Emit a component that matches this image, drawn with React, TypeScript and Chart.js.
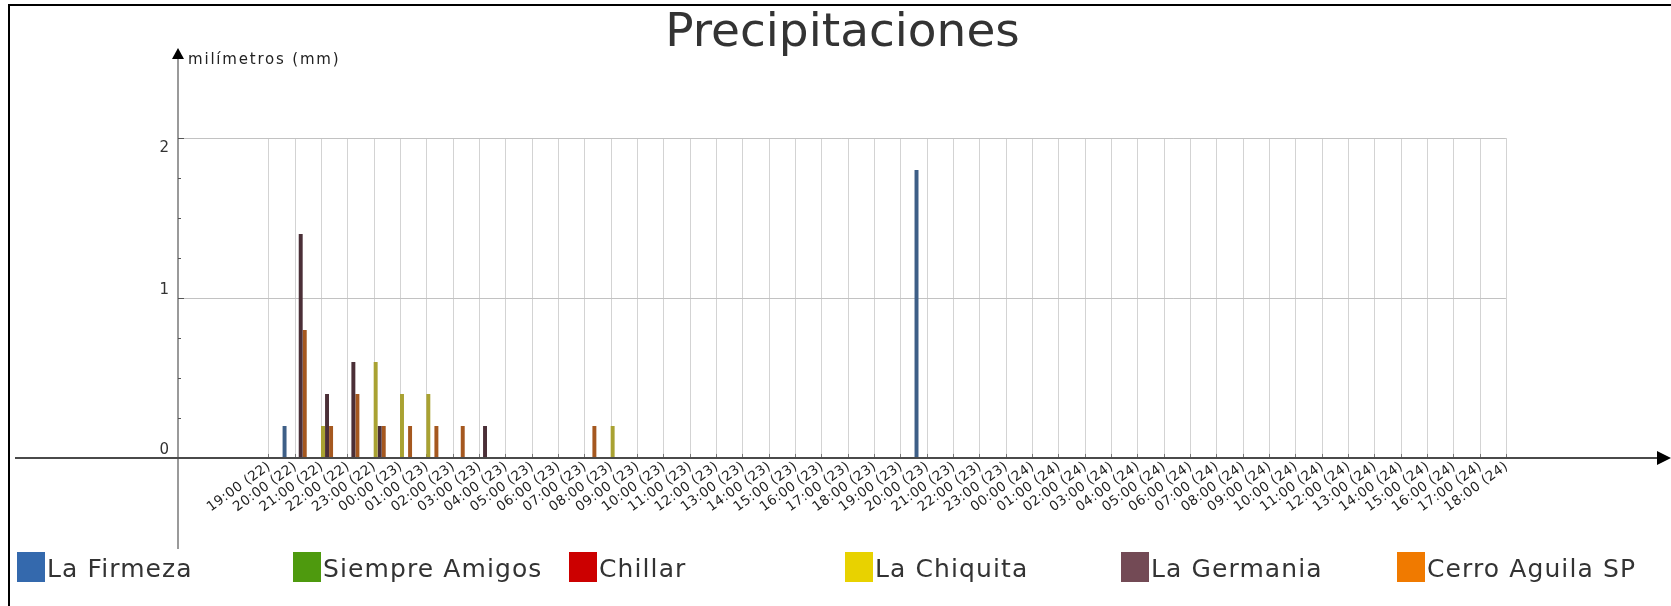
import React, { useEffect, useRef } from "react";
import { Chart, registerables } from "chart.js";

Chart.register(...registerables);

const categories = [
  "19:00 (22)", "20:00 (22)", "21:00 (22)", "22:00 (22)", "23:00 (22)",
  "00:00 (23)", "01:00 (23)", "02:00 (23)", "03:00 (23)", "04:00 (23)", "05:00 (23)",
  "06:00 (23)", "07:00 (23)", "08:00 (23)", "09:00 (23)", "10:00 (23)", "11:00 (23)",
  "12:00 (23)", "13:00 (23)", "14:00 (23)", "15:00 (23)", "16:00 (23)", "17:00 (23)",
  "18:00 (23)", "19:00 (23)", "20:00 (23)", "21:00 (23)", "22:00 (23)", "23:00 (23)",
  "00:00 (24)", "01:00 (24)", "02:00 (24)", "03:00 (24)", "04:00 (24)", "05:00 (24)",
  "06:00 (24)", "07:00 (24)", "08:00 (24)", "09:00 (24)", "10:00 (24)", "11:00 (24)",
  "12:00 (24)", "13:00 (24)", "14:00 (24)", "15:00 (24)", "16:00 (24)", "17:00 (24)",
  "18:00 (24)",
];

const seriesNames = ["La Firmeza", "Siempre Amigos", "Chillar", "La Chiquita", "La Germania", "Cerro Aguila SP"];

const laFirmeza = [
  0, 0.2, 0, 0, 0, 0, 0, 0, 0, 0, 0, 0, 0, 0, 0, 0, 0, 0, 0, 0, 0, 0, 0, 0,
  0, 1.8, 0, 0, 0, 0, 0, 0, 0, 0, 0, 0, 0, 0, 0, 0, 0, 0, 0, 0, 0, 0, 0, 0,
];
const siempreAmigos = [
  0, 0, 0, 0, 0, 0, 0, 0, 0, 0, 0, 0, 0, 0, 0, 0, 0, 0, 0, 0, 0, 0, 0, 0,
  0, 0, 0, 0, 0, 0, 0, 0, 0, 0, 0, 0, 0, 0, 0, 0, 0, 0, 0, 0, 0, 0, 0, 0,
];
const chillar = [
  0, 0, 0, 0, 0, 0, 0, 0, 0, 0, 0, 0, 0, 0, 0, 0, 0, 0, 0, 0, 0, 0, 0, 0,
  0, 0, 0, 0, 0, 0, 0, 0, 0, 0, 0, 0, 0, 0, 0, 0, 0, 0, 0, 0, 0, 0, 0, 0,
];
const laChiquita = [
  0, 0, 0.2, 0, 0.6, 0.4, 0.4, 0, 0, 0, 0, 0, 0, 0.2, 0, 0, 0, 0, 0, 0, 0, 0, 0, 0,
  0, 0, 0, 0, 0, 0, 0, 0, 0, 0, 0, 0, 0, 0, 0, 0, 0, 0, 0, 0, 0, 0, 0, 0,
];
const laGermania = [
  0, 1.4, 0.4, 0.6, 0.2, 0, 0, 0, 0.2, 0, 0, 0, 0, 0, 0, 0, 0, 0, 0, 0, 0, 0, 0, 0,
  0, 0, 0, 0, 0, 0, 0, 0, 0, 0, 0, 0, 0, 0, 0, 0, 0, 0, 0, 0, 0, 0, 0, 0,
];
const cerroAguila = [
  0, 0.8, 0.2, 0.4, 0.2, 0.2, 0.2, 0.2, 0, 0, 0, 0, 0.2, 0, 0, 0, 0, 0, 0, 0, 0, 0, 0, 0,
  0, 0, 0, 0, 0, 0, 0, 0, 0, 0, 0, 0, 0, 0, 0, 0, 0, 0, 0, 0, 0, 0, 0, 0,
];

const seriesValues = [laFirmeza, siempreAmigos, chillar, laChiquita, laGermania, cerroAguila];

const legendColors = ["#3469ad", "#4e9a0e", "#cc0000", "#e8d200", "#734a55", "#f07a00"];
const barColors = ["#3e5f87", "#3f6b1a", "#8a1a1a", "#a9a232", "#4b2f37", "#a5581f"];

const yTicks = [0, 1, 2];
const yMinorTicks = [0.25, 0.5, 0.75, 1.25, 1.5, 1.75];

const titleText = "Precipitaciones";
const yAxisTitle = "milímetros (mm)";

const FONT = "'DejaVu Sans', sans-serif";

const pchartPlugin = {
  id: "pchartLook",
  beforeDatasetsDraw(chart: any) {
    const { ctx, chartArea } = chart;
    const x = chart.scales.x;
    const y = chart.scales.y;
    const yTop = y.getPixelForValue(yTicks[yTicks.length - 1]);
    const yZero = y.getPixelForValue(0);
    const xLast = x.getPixelForValue(categories.length - 1);
    ctx.save();
    ctx.lineWidth = 1;
    ctx.strokeStyle = "#d3d3d3";
    categories.forEach((_, i) => {
      const px = Math.round(x.getPixelForValue(i)) + 0.5;
      ctx.beginPath();
      ctx.moveTo(px, yTop);
      ctx.lineTo(px, yZero);
      ctx.stroke();
    });
    ctx.strokeStyle = "#c2c2c2";
    yTicks.filter((v) => v > 0).forEach((v) => {
      const py = Math.round(y.getPixelForValue(v)) + 0.5;
      ctx.beginPath();
      ctx.moveTo(chartArea.left, py);
      ctx.lineTo(xLast, py);
      ctx.stroke();
    });
    ctx.strokeStyle = "#777";
    categories.forEach((_, i) => {
      const px = Math.round(x.getPixelForValue(i)) + 0.5;
      ctx.beginPath();
      ctx.moveTo(px, yZero - 4);
      ctx.lineTo(px, yZero);
      ctx.stroke();
    });
    ctx.restore();
  },
  afterDraw(chart: any) {
    const { ctx, chartArea } = chart;
    const x = chart.scales.x;
    const y = chart.scales.y;
    const yZero = y.getPixelForValue(0);
    const axisX = chartArea.left;
    ctx.save();

    // Y axis
    ctx.strokeStyle = "#9a9a9a";
    ctx.lineWidth = 2;
    ctx.beginPath();
    ctx.moveTo(axisX, chartArea.bottom);
    ctx.lineTo(axisX, chartArea.top + 6);
    ctx.stroke();
    ctx.fillStyle = "#000";
    ctx.beginPath();
    ctx.moveTo(axisX, chartArea.top);
    ctx.lineTo(axisX - 6, chartArea.top + 11);
    ctx.lineTo(axisX + 6, chartArea.top + 11);
    ctx.closePath();
    ctx.fill();

    // Y ticks
    ctx.strokeStyle = "#555";
    ctx.lineWidth = 1;
    yTicks.filter((v) => v > 0).forEach((v) => {
      const py = Math.round(y.getPixelForValue(v)) + 0.5;
      ctx.beginPath();
      ctx.moveTo(axisX, py);
      ctx.lineTo(axisX + 6, py);
      ctx.stroke();
    });
    yMinorTicks.forEach((v) => {
      const py = Math.round(y.getPixelForValue(v)) + 0.5;
      ctx.beginPath();
      ctx.moveTo(axisX, py);
      ctx.lineTo(axisX + 3, py);
      ctx.stroke();
    });

    // X axis
    ctx.strokeStyle = "#4a4a4a";
    ctx.lineWidth = 2;
    ctx.beginPath();
    ctx.moveTo(5, yZero);
    ctx.lineTo(chartArea.right - 8, yZero);
    ctx.stroke();
    ctx.fillStyle = "#000";
    ctx.beginPath();
    ctx.moveTo(chartArea.right, yZero);
    ctx.lineTo(chartArea.right - 14, yZero - 7);
    ctx.lineTo(chartArea.right - 14, yZero + 7);
    ctx.closePath();
    ctx.fill();

    // Y tick labels (top one sits under its line, the others above)
    ctx.fillStyle = "#333";
    ctx.font = `15px ${FONT}`;
    ctx.textAlign = "right";
    const topTick = yTicks[yTicks.length - 1];
    yTicks.forEach((v) => {
      const py = y.getPixelForValue(v);
      if (v === topTick) {
        ctx.textBaseline = "top";
        ctx.fillText(String(v), axisX - 9, py + 3);
      } else {
        ctx.textBaseline = "alphabetic";
        ctx.fillText(String(v), axisX - 9, py - 4);
      }
    });

    // Y axis title
    ctx.textAlign = "left";
    ctx.textBaseline = "alphabetic";
    ctx.font = `15px ${FONT}`;
    (ctx as any).letterSpacing = "1.8px";
    ctx.fillStyle = "#222";
    ctx.fillText(yAxisTitle, axisX + 10, chartArea.top + 16);

    // X tick labels
    ctx.font = `13.5px ${FONT}`;
    (ctx as any).letterSpacing = "0.4px";
    ctx.fillStyle = "#222";
    categories.forEach((c, i) => {
      const px = x.getPixelForValue(i);
      ctx.save();
      ctx.translate(px + 1, yZero + 7);
      ctx.rotate((-36 * Math.PI) / 180);
      ctx.textAlign = "right";
      ctx.textBaseline = "middle";
      ctx.fillText(c, 0, 0);
      ctx.restore();
    });

    // Title
    (ctx as any).letterSpacing = "0px";
    ctx.font = `47px ${FONT}`;
    ctx.fillStyle = "#333";
    ctx.textAlign = "center";
    ctx.textBaseline = "alphabetic";
    ctx.fillText(titleText, chart.width / 2 + 2, 40);

    // Legend
    ctx.font = `25px ${FONT}`;
    (ctx as any).letterSpacing = "1.1px";
    ctx.textAlign = "left";
    chart.data.datasets.forEach((ds: any, i: number) => {
      const lx = 7 + i * 276;
      ctx.fillStyle = legendColors[i];
      ctx.fillRect(lx, 546, 28, 30);
      ctx.fillStyle = "#333";
      ctx.fillText(ds.label, lx + 30, 571);
    });
    (ctx as any).letterSpacing = "0px";

    ctx.restore();
  },
};

export default function App() {
  const canvasRef = useRef<HTMLCanvasElement | null>(null);

  useEffect(() => {
    if (!canvasRef.current) return;
    const chart = new Chart(canvasRef.current, {
      type: "bar",
      data: {
        datasets: seriesNames.map((name, i) => ({
          label: name,
          data: seriesValues[i].map((v, j) => ({ x: j, y: v })),
          backgroundColor: barColors[i],
          borderWidth: 0,
          categoryPercentage: 0.92,
          barPercentage: 0.98,
        })),
      },
      options: {
        animation: false,
        responsive: false,
        devicePixelRatio: 1,
        layout: { padding: { left: 168, right: 0, top: 42, bottom: 57 } },
        scales: {
          x: { type: "linear", min: -3.43, max: 53.27, offset: false, display: false },
          y: { type: "linear", min: -0.569, max: 2.5625, display: false },
        },
        plugins: {
          legend: { display: false },
          title: { display: false },
          tooltip: { enabled: false },
        },
      },
      plugins: [pchartPlugin],
    } as any);
    return () => chart.destroy();
  }, []);

  return (
    <div
      style={{
        position: "fixed",
        left: 8,
        top: 4,
        width: 1661,
        height: 602,
        borderTop: "2px solid #000",
        borderLeft: "2px solid #000",
        background: "#fff",
      }}
    >
      <canvas ref={canvasRef} width={1661} height={600} style={{ display: "block" }} />
    </div>
  );
}
